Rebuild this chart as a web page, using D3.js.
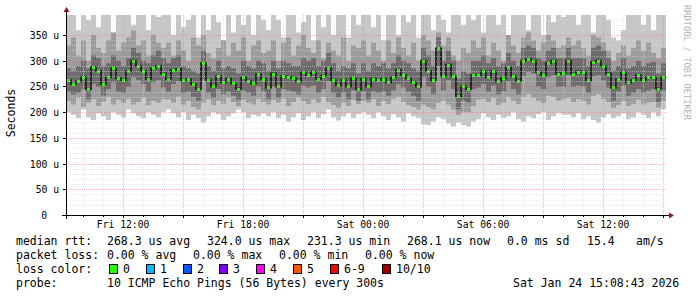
<!DOCTYPE html>
<html>
<head>
<meta charset="utf-8">
<script src="https://cdn.jsdelivr.net/npm/d3@7"></script>
<style>
  body { margin: 0; background: #fff; }
  text { font-family: "DejaVu Sans Mono", monospace; }
</style>
</head>
<body>
<div id="chart"></div>
<script>
// median rtt in microseconds, one value per 15 minutes
var median = [
  262,255,260,269,245,288,280,255,268,285,266,262,280,300,290,280,265,285,290,275,
  265,282,284,262,264,255,245,295,262,250,270,258,265,256,246,268,261,256,274,265,
  248,275,250,270,269,267,260,278,272,278,265,271,285,262,252,262,250,266,245,265,
  250,265,262,265,258,268,282,272,266,258,250,300,280,262,324,270,292,270,231,250,
  245,272,272,280,268,280,260,266,287,270,261,300,303,300,278,272,295,300,275,276,
  300,275,279,278,262,298,300,290,275,248,264,278,258,262,272,262,268,268,246,268
];
// smoke: max / min ping
var pingMax = [
  400,395,360,400,380,400,365,400,400,355,400,390,400,370,400,400,360,400,385,400,
  400,350,400,365,380,400,345,400,360,400,375,340,400,355,400,370,400,350,400,380,
  360,400,380,345,400,400,355,375,400,340,400,365,400,350,390,400,345,400,370,400,
  400,365,400,340,390,400,350,400,375,400,345,400,400,360,400,380,355,400,400,370,
  400,380,400,355,400,400,370,400,345,400,390,400,360,400,400,350,400,375,400,385,
  400,400,370,400,390,355,400,400,380,345,340,360,400,390,400,370,400,360,400,395
];
var pingMin = [
  200,195,188,205,190,185,198,192,185,200,195,190,205,198,192,188,200,195,190,200,
  205,198,190,200,185,195,188,180,192,200,196,185,192,198,205,200,188,195,192,198,
  192,200,188,195,182,190,198,185,192,200,188,196,205,190,184,192,198,188,196,200,
  195,188,200,192,185,196,190,182,198,192,188,176,175,182,190,186,178,172,180,175,
  172,182,186,198,190,185,195,188,192,200,186,182,192,188,196,200,185,192,198,195,
  195,190,198,186,192,185,180,190,196,188,192,198,186,190,200,195,188,200,192,205
];
// smoke: 2nd and 9th ping
var ping2Hi = [
  330,345,310,340,300,350,325,315,340,355,320,335,345,360,330,340,310,350,335,325,
  335,310,340,320,300,345,330,350,315,305,325,340,310,335,320,345,300,330,340,315,
  320,340,300,335,345,310,330,350,325,315,340,305,335,320,310,345,300,330,325,340,
  310,335,320,300,340,315,345,325,310,335,300,350,340,320,355,330,345,310,300,325,
  315,340,325,345,310,335,320,300,350,330,315,345,355,340,320,335,350,340,325,330,
  345,330,340,325,310,350,345,335,320,300,315,330,310,325,340,320,335,315,305,325
];
var ping2Lo = [
  222,215,228,210,218,225,212,220,230,215,224,218,226,215,220,228,214,222,218,225,
  225,218,230,215,222,210,205,218,225,214,222,216,228,220,212,224,218,215,226,220,
  215,224,218,226,212,220,228,222,216,225,218,230,220,214,208,218,212,224,216,222,
  218,225,212,222,216,226,230,220,214,210,205,215,210,206,218,222,215,205,195,200,
  200,212,224,226,220,228,214,218,230,222,216,230,235,228,222,218,232,230,222,225,
  228,220,225,222,215,232,235,226,220,208,214,222,212,216,224,215,218,220,208,222
];
// smoke: 3rd and 8th ping
var ping3Hi = [
  285,280,290,300,285,310,305,290,295,310,300,290,305,325,315,300,295,310,320,305,
  295,305,310,290,285,280,275,320,290,280,300,285,290,285,275,300,290,285,300,295,
  280,300,285,300,295,290,290,305,300,305,290,300,315,295,280,290,285,295,275,295,
  280,295,290,295,285,295,310,300,295,285,280,325,310,290,345,300,320,300,265,280,
  275,300,300,310,295,305,290,295,315,300,290,325,330,325,305,300,320,325,305,305,
  325,305,305,305,290,325,330,320,305,280,290,305,285,290,300,290,295,298,275,295
];
var ping3Lo = [
  240,235,238,245,225,255,250,232,245,258,240,238,250,268,262,255,240,258,262,248,
  240,255,260,238,240,230,222,262,238,228,245,235,240,232,224,242,238,232,250,240,
  225,250,228,245,242,240,235,252,248,252,238,245,260,238,228,238,225,242,222,240,
  225,240,238,240,232,242,255,248,240,232,222,268,250,235,290,242,262,245,205,222,
  218,245,248,255,240,252,235,240,260,245,235,270,278,275,250,245,268,272,250,250,
  272,250,252,250,238,270,272,262,248,222,240,252,232,238,245,238,242,245,220,242
];
var yTicks = [0, 50, 100, 150, 200, 250, 300, 350];
var legendRtt = ["268.3 us avg", "324.0 us max", "231.3 us min", "268.1 us now", "0.0 ms sd", "15.4", "am/s"];
var legendLoss = ["0.00 % avg", "0.00 % max", "0.00 % min", "0.00 % now"];
var lossLabels = ["0", "1", "2", "3", "4", "5", "6-9", "10/10"];
var lossColors = ["#26ff00", "#00b8ff", "#0059ff", "#7e00ff", "#ff00ff", "#ff5500", "#ff0000", "#a10000"];

var start = new Date(2026, 0, 23, 9, 8, 43);
var end = new Date(2026, 0, 24, 15, 8, 43);
var stepMs = 900 * 1000;

var width = 697, height = 297;
var plotL = 66, plotR = 666, plotT = 15, plotB = 215;

var svg = d3.select("#chart").append("svg")
  .attr("width", width)
  .attr("height", height);

var x = d3.scaleTime().domain([start, end]).range([plotL, plotR]);
var y = d3.scaleLinear().domain([0, 389]).range([plotB, plotT]);

var rows = median.map(function(m, i) {
  return {
    t: new Date(+start + i * stepMs), med: m,
    max: pingMax[i], min: pingMin[i],
    h2: ping2Hi[i], l2: ping2Lo[i],
    h3: ping3Hi[i], l3: ping3Lo[i]
  };
});
var last = Object.assign({}, rows[rows.length - 1]);
last.t = end;
var stepRows = rows.concat([last]);

svg.append("clipPath").attr("id", "plotclip")
  .append("rect")
  .attr("x", plotL).attr("y", plotT)
  .attr("width", plotR - plotL).attr("height", plotB - plotT);

var plot = svg.append("g").attr("clip-path", "url(#plotclip)");

function band(hi, lo, color) {
  var area = d3.area()
    .curve(d3.curveStepAfter)
    .x(function(d) { return x(d.t); })
    .y0(function(d) { return y(d[lo]); })
    .y1(function(d) { return y(d[hi]); });
  plot.append("path")
    .datum(stepRows)
    .attr("fill", color)
    .attr("d", area);
}
band("max", "min", "#c6c6c6");
band("h2", "l2", "#9c9c9c");
band("h3", "l3", "#6c6c6c");

// median as dark step line with green loss marks
var medLine = d3.line()
  .curve(d3.curveStepAfter)
  .x(function(d) { return x(d.t); })
  .y(function(d) { return y(d.med); });
plot.append("path")
  .datum(stepRows)
  .attr("fill", "none")
  .attr("stroke", "#262626")
  .attr("stroke-width", 2)
  .attr("d", medLine);

plot.selectAll("rect.med")
  .data(rows)
  .enter().append("rect")
  .attr("class", "med")
  .attr("fill", lossColors[0])
  .attr("x", function(d) { return x(d.t) + 1; })
  .attr("y", function(d) { return Math.round(y(d.med)) - 1; })
  .attr("width", 3)
  .attr("height", 3);

// grid
var grid = svg.append("g");
d3.range(10, 389, 10).forEach(function(v) {
  var yy = Math.round(y(v)) + 0.5;
  grid.append("line")
    .attr("x1", plotL).attr("x2", plotR)
    .attr("y1", yy).attr("y2", yy)
    .attr("stroke", v % 50 === 0 ? "rgba(225,110,110,0.45)" : "rgba(215,215,215,0.55)")
    .attr("stroke-dasharray", "1,1");
});
d3.timeHour.range(start, end).forEach(function(t) {
  var xx = Math.round(x(t)) + 0.5;
  grid.append("line")
    .attr("x1", xx).attr("x2", xx)
    .attr("y1", plotT).attr("y2", plotB)
    .attr("stroke", t.getHours() % 3 === 0 ? "rgba(225,110,110,0.45)" : "rgba(215,215,215,0.55)")
    .attr("stroke-dasharray", "1,1");
  grid.append("line")
    .attr("x1", xx).attr("x2", xx)
    .attr("y1", plotB).attr("y2", plotB + (t.getHours() % 3 === 0 ? 3 : 2))
    .attr("stroke", "#000");
});

// axes
svg.append("line")
  .attr("x1", plotL - 4).attr("x2", plotR + 4)
  .attr("y1", plotB + 0.5).attr("y2", plotB + 0.5)
  .attr("stroke", "#000");
svg.append("line")
  .attr("x1", plotL + 0.5).attr("x2", plotL + 0.5)
  .attr("y1", plotB + 4).attr("y2", plotT - 4)
  .attr("stroke", "#000");
svg.append("path")
  .attr("fill", "#8b1a1a")
  .attr("d", "M" + (plotR + 3) + "," + (plotB - 2.5) + "L" + (plotR + 8) + "," + (plotB + 0.5) + "L" + (plotR + 3) + "," + (plotB + 3.5) + "Z");
svg.append("path")
  .attr("fill", "#8b1a1a")
  .attr("d", "M" + (plotL - 2.5) + "," + (plotT - 3) + "L" + (plotL + 0.5) + "," + (plotT - 8) + "L" + (plotL + 3.5) + "," + (plotT - 3) + "Z");

yTicks.forEach(function(v) {
  var yy = Math.round(y(v)) + 0.5;
  svg.append("line")
    .attr("x1", plotL - 3).attr("x2", plotL)
    .attr("y1", yy).attr("y2", yy)
    .attr("stroke", "#000");
  svg.append("text")
    .attr("x", v === 0 ? 47 : 59)
    .attr("y", yy + 3.5)
    .attr("text-anchor", "end")
    .attr("font-size", "9.7px")
    .attr("fill", "#000")
    .text(v === 0 ? "0" : v + " u");
});

var fmt = d3.timeFormat("%a %H:%M");
d3.timeHour.every(6).range(start, end).forEach(function(t) {
  svg.append("text")
    .attr("x", x(t))
    .attr("y", 228)
    .attr("text-anchor", "middle")
    .attr("font-size", "9.7px")
    .attr("fill", "#000")
    .text(fmt(t));
});

svg.append("text")
  .attr("transform", "translate(15,113) rotate(-90)")
  .attr("text-anchor", "middle")
  .attr("font-size", "11.5px")
  .text("Seconds");

svg.append("text")
  .attr("transform", "translate(684,5) rotate(90)")
  .attr("font-size", "8.7px")
  .attr("fill", "#b4b4b4")
  .text("RRDTOOL / TOBI OETIKER");

// legend
var fs = "11.5px";
function label(tx, ty, s) {
  svg.append("text").attr("x", tx).attr("y", ty)
    .attr("font-size", fs).attr("fill", "#000")
    .text(s);
}
label(16, 245, "median rtt:");
[107, 207, 307, 407, 507, 587, 636].forEach(function(px, i) {
  label(px, 245, legendRtt[i]);
});
label(16, 259, "packet loss:");
[107, 193, 279, 365].forEach(function(px, i) {
  label(px, 259, legendLoss[i]);
});
label(16, 273, "loss color:");
var boxX = [109, 146, 183, 219, 256, 293, 330, 382];
lossLabels.forEach(function(s, i) {
  svg.append("rect")
    .attr("x", boxX[i] + 0.5).attr("y", 264.5)
    .attr("width", 8).attr("height", 9)
    .attr("fill", lossColors[i])
    .attr("stroke", "#000").attr("stroke-width", 1);
  label(boxX[i] + 14, 273, s);
});
label(16, 287, "probe:");
label(107, 287, "10 ICMP Echo Pings (56 Bytes) every 300s");
label(513, 287, "Sat Jan 24 15:08:43 2026");
</script>
</body>
</html>
